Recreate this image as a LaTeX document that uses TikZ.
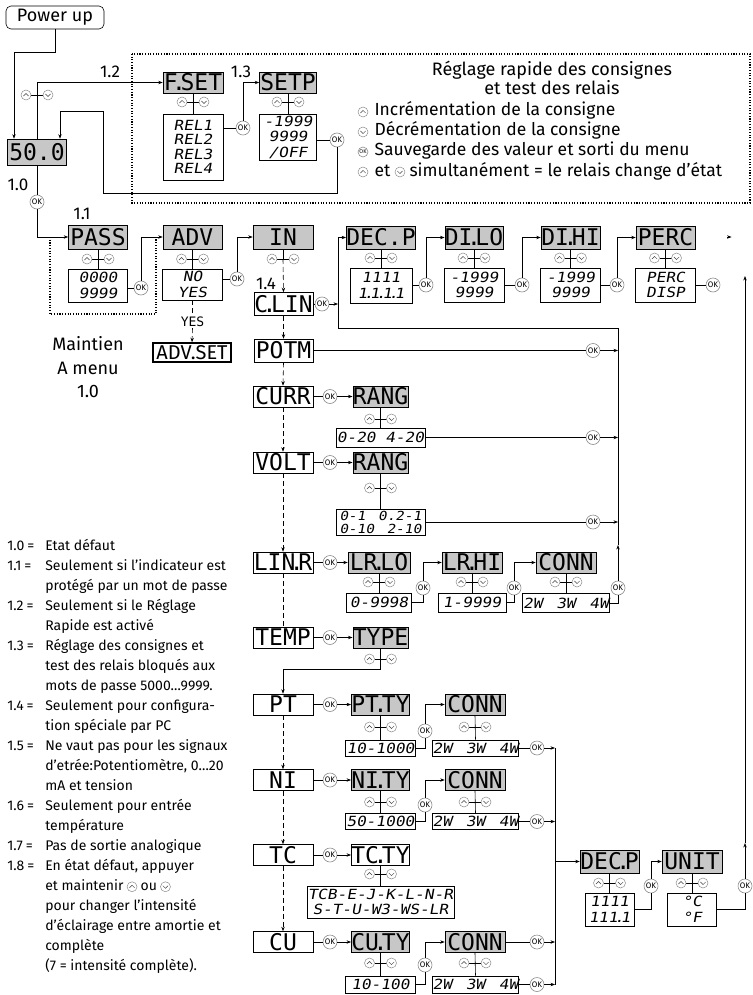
\documentclass[tikz,border=0pt]{standalone}
\usepackage{fontspec}
\setmainfont{Fira Sans}
\newfontfamily\lcd{DejaVu Sans Mono}
\newfontfamily\lcdv[FakeSlant=0.18, FakeStretch=1.15]{DejaVu Sans Mono}
\usetikzlibrary{arrows.meta, positioning}

% narrow decimal points for the displays
\newcommand\ldot{\kern-5.5pt.\kern-5.5pt}
\newcommand\vdot{\kern-3.5pt.\kern-3.5pt}

\tikzset{
  >={Stealth[length=4.5pt, width=3.4pt]},
  hdr/.style={draw, line width=0.6pt, fill=black!22, inner sep=0pt, minimum height=22pt,
    font=\lcd\fontsize{23}{23}\selectfont},
  opt/.style={hdr, fill=white},
  val/.style={draw, line width=0.6pt, inner sep=0pt, align=center,
    font=\lcdv\fontsize{14}{15.5}\selectfont},
  ok/.style={circle, draw=black!45, fill=white, inner sep=0pt, minimum size=14pt,
    font=\fontsize{8}{8}\selectfont},
  btn/.style={circle, draw=black!45, fill=white, inner sep=0pt, minimum size=10pt, line width=0.5pt},
  btnup/.style={btn, path picture={
    \draw[line width=0.5pt, black!75]
      ([xshift=-2.6pt,yshift=-1pt]path picture bounding box.center) --
      ([yshift=1.6pt]path picture bounding box.center) --
      ([xshift=2.6pt,yshift=-1pt]path picture bounding box.center);}},
  btndn/.style={btn, path picture={
    \draw[line width=0.5pt, black!75]
      ([xshift=-2.6pt,yshift=1pt]path picture bounding box.center) --
      ([yshift=-1.6pt]path picture bounding box.center) --
      ([xshift=2.6pt,yshift=1pt]path picture bounding box.center);}},
  updn/.pic={
    \coordinate (-c) at (0,0);
    \draw (-6,0) -- (6,0);
    \node[btnup] (-u) at (-11,0) {};
    \node[btndn] (-d) at (11,0) {};
  },
  dashwire/.style={dash pattern=on 5pt off 3pt},
  dotbox/.style={line width=1.1pt, dash pattern=on 1.1pt off 1.6pt},
  lbl/.style={font=\fontsize{17}{17}\selectfont},
  leg/.style={inner sep=0pt, text height=12pt, text depth=4pt, font=\fontsize{17.5}{17.5}\selectfont},
  note/.style={inner sep=0pt, text height=10pt, text depth=3.5pt, font=\fontsize{14}{14}\selectfont},
}

\begin{document}
\begin{tikzpicture}[x=1pt, y=-1pt, line width=0.6pt]
  \useasboundingbox (0,0) rectangle (752,995);

  % power up and quick setting
  \node[draw, rounded corners=5pt, minimum width=98pt, minimum height=23pt, inner sep=0pt,
    font=\fontsize{18}{18}\selectfont] (power) at (55,17.5) {Power up};
  \node[hdr, minimum width=59pt, minimum height=26pt] (disp) at (37,152) {50.0};
  \node[lbl] (l12) at (110,72) {1.2};
  \node[lbl] (l13) at (241,72) {1.3};
  \node[lbl] (l10) at (18,185) {1.0};
  \node[lbl] (l11) at (82,214) {1.1};
  \node[lbl] (l14) at (266,284) {1.4};

  \node[hdr, minimum width=60pt, minimum height=21pt] (fset) at (193,82.5) {F\ldot SET};
  \node[val, minimum width=60pt, minimum height=66pt, font=\lcdv\fontsize{14}{14.5}\selectfont]
    (fsetv) at (193,147) {REL1\\REL2\\REL3\\REL4};
  \node[ok] (okF) at (243,128) {OK};
  \node[hdr, minimum width=57pt, minimum height=21pt] (setp) at (288,82.5) {SETP};
  \node[val, minimum width=57pt, minimum height=46pt] (setpv) at (288,137) {-1999\\9999\\/OFF};
  \node[ok] (okS) at (337,140) {OK};

  \coordinate (pw) at (14,52);
  \coordinate (r1) at (103,193);
  \coordinate (r2) at (60,111);
  \draw[->] (power.south) |- (pw) -- (pw |- disp.north);
  \draw[->] (disp.north) |- (fset.west);
  \draw (fset.south) -- (fsetv.north);
  \draw (fsetv.east |- okF) -- (okF);
  \draw[->] (okF) |- (setp.west);
  \draw (setp.south) -- (setpv.north);
  \draw (setpv.east |- okS) -- (okS);
  \draw[->] (okS) |- (r1) |- (r2) -- (r2 |- disp.north);
  \pic (dud) at (37,95) {updn};
  \pic (fsud) at (193,102) {updn};
  \pic (spud) at (288,102) {updn};

  \draw[dotbox] (132,54) rectangle (750,203);
  \node[align=center, font=\fontsize{18}{19}\selectfont] (ttl) at (552,77.5)
    {Réglage rapide des consignes\\et test des relais};
  \node[btnup] (lgu) at (363,112) {};
  \node[leg, right=6pt of lgu] (lg1) {Incrémentation de la consigne};
  \node[btndn] (lgd) at (363,132) {};
  \node[leg, right=6pt of lgd] (lg2) {Décrémentation de la consigne};
  \node[ok, minimum size=10pt, font=\fontsize{5.5}{5.5}\selectfont] (lgo) at (363,152) {OK};
  \node[leg, right=6pt of lgo] (lg3) {Sauvegarde des valeur et sorti du menu};
  \node[btnup] (lgu2) at (363,172) {};
  \node[leg, right=6pt of lgu2] (lg4) {et};
  \node[btndn, right=4pt of lg4] (lgd2) {};
  \node[leg, right=4pt of lgd2] (lg5) {simultanément = le relais change d’état};

  % password, advanced, input
  \node[ok] (ok0) at (37,202) {OK};
  \node[hdr, minimum width=59pt, minimum height=24pt] (pass) at (98,237) {PASS};
  \node[val, minimum width=59pt, minimum height=33pt] (passv) at (98,285.5) {0000\\9999};
  \node[ok] (okP) at (141,288) {OK};
  \node[hdr, minimum width=59pt, minimum height=24pt] (adv) at (192.5,237) {ADV};
  \node[val, minimum width=60pt, minimum height=31pt] (advv) at (192.5,284.5) {NO\\YES};
  \node[ok] (okA) at (237,279) {OK};
  \node[inner sep=1pt, font=\lcd\fontsize{13}{13}\selectfont] (yes) at (192.5,322) {YES};
  \node[draw, line width=1.6pt, minimum width=78pt, minimum height=19pt, inner sep=0pt,
    font=\fontsize{20}{20}\selectfont] (advset) at (192,352.5) {ADV.SET};
  \node[align=center, font=\fontsize{18}{23.5}\selectfont] (maint) at (88,367.5) {Maintien\\A menu\\1.0};
  \node[hdr, minimum width=60pt, minimum height=24pt] (in) at (283,237) {IN};

  \draw (disp.south) -- (ok0);
  \draw[->] (ok0) |- (pass.west);
  \draw (pass.south) -- (passv.north);
  \draw (passv.east |- okP) -- (okP);
  \draw[->] (okP) |- (adv.west);
  \draw (adv.south) -- (advv.north);
  \draw (advv.east |- okA) -- (okA);
  \draw[->] (okA) |- (in.west);
  \draw[dashwire] (advv.south) -- (yes.north);
  \draw[dashwire, ->] (yes.south) -- (advset.north);
  \draw[dotbox] (50,237) -- (50,314) -- (156,314) -- (156,237);
  \pic (paud) at (98,259) {updn};
  \pic (adud) at (192.5,259) {updn};
  \pic (inud) at (283,259) {updn};

  % display settings
  \node[hdr, minimum width=68pt, minimum height=23pt] (decp) at (381,237.5) {DEC.P};
  \node[val, minimum width=62pt, minimum height=35pt] (decpv) at (381,285.5) {1111\\1\vdot 1\vdot 1\vdot 1};
  \node[ok] (okD) at (426,285) {OK};
  \node[hdr, minimum width=58pt, minimum height=23pt] (dilo) at (474,237.5) {DI\ldot LO};
  \node[val, minimum width=60pt, minimum height=34pt] (dilov) at (474,285) {-1999\\9999};
  \node[ok] (okDL) at (522,285) {OK};
  \node[hdr, minimum width=59pt, minimum height=23pt] (dihi) at (570.5,237.5) {DI\ldot HI};
  \node[val, minimum width=60pt, minimum height=34pt] (dihiv) at (570.5,285) {-1999\\9999};
  \node[ok] (okDH) at (617,285) {OK};
  \node[hdr, minimum width=59pt, minimum height=23pt] (perc) at (665.5,237.5) {PERC};
  \node[val, minimum width=60pt, minimum height=34pt] (percv) at (665.5,285) {PERC\\DISP};
  \node[ok] (okPC) at (713,285) {OK};

  \draw (decp.south) -- (decpv.north);
  \draw (decpv.east |- okD) -- (okD);
  \draw[->] (okD) |- (dilo.west);
  \draw (dilo.south) -- (dilov.north);
  \draw (dilov.east |- okDL) -- (okDL);
  \draw[->] (okDL) |- (dihi.west);
  \draw (dihi.south) -- (dihiv.north);
  \draw (dihiv.east |- okDH) -- (okDH);
  \draw[->] (okDH) |- (perc.west);
  \draw (perc.south) -- (percv.north);
  \draw (percv.east |- okPC) -- (okPC);
  \pic (dpud) at (381,258) {updn};
  \pic (dlud) at (474,258) {updn};
  \pic (dhud) at (570.5,258) {updn};
  \pic (pcud) at (665.5,258) {updn};
  \coordinate (tipA) at (727,237);
  \coordinate (tipB) at (731.5,237);
  \draw[->] (tipA) -- (tipB);

  % input types
  \node[opt, minimum width=59pt, minimum height=23pt] (clin) at (283.5,304) {C\ldot LIN};
  \node[ok] (okC) at (322,304) {OK};
  \node[opt, minimum width=59pt, minimum height=23pt] (potm) at (283.5,350.5) {POTM};
  \node[ok] (okPo) at (593,350.5) {OK};

  \node[opt, minimum width=60pt, minimum height=21pt] (curr) at (283,396.5) {CURR};
  \node[ok] (okCr) at (330,396.5) {OK};
  \node[hdr, minimum width=55pt, minimum height=21pt] (rang1) at (380.5,396.5) {RANG};
  \node[val, minimum width=89pt, minimum height=19pt] (rang1v) at (380.5,437.5) {0-20 4-20};
  \node[ok] (okR1) at (593,437.5) {OK};

  \node[opt, minimum width=60pt, minimum height=21pt] (volt) at (283,462.5) {VOLT};
  \node[ok] (okVo) at (330,462.5) {OK};
  \node[hdr, minimum width=55pt, minimum height=21pt] (rang2) at (380.5,462.5) {RANG};
  \node[val, minimum width=89pt, minimum height=26pt, font=\lcdv\fontsize{12.5}{13}\selectfont]
    (rang2v) at (380.5,522) {0-1\hspace{4pt} 0.2-1\\0-10\hspace{4pt} 2-10};
  \node[ok] (okR2) at (593,522) {OK};

  \node[opt, minimum width=60pt, minimum height=21pt] (linr) at (283,562.5) {LIN\ldot R};
  \node[ok] (okLi) at (330,562.5) {OK};
  \node[hdr, minimum width=62pt, minimum height=21pt] (lrlo) at (379,562.5) {LR\ldot LO};
  \node[val, minimum width=65pt, minimum height=19pt] (lrlov) at (379,602.5) {0-9998};
  \node[ok] (okL1) at (423,588) {OK};
  \node[hdr, minimum width=60pt, minimum height=21pt] (lrhi) at (472,562.5) {LR\ldot HI};
  \node[val, minimum width=68pt, minimum height=19pt] (lrhiv) at (472,602.5) {1-9999};
  \node[ok] (okL2) at (514,588) {OK};
  \node[hdr, minimum width=60pt, minimum height=21pt] (connL) at (566,562.5) {CONN};
  \node[val, minimum width=87pt, minimum height=19pt] (connLv) at (566,603) {2W\hspace{4pt} 3W\hspace{4pt} 4W};
  \node[ok] (okL3) at (618,588) {OK};

  \coordinate (cA) at (338,328);
  \coordinate (cC) at (618,545);
  \draw (in.south) -- (inud-c);
  \draw[dashwire, ->] (inud-c) -- (clin.north);
  \draw (clin.east) -- (okC);
  \draw[->] (okC) -- (okC -| cA);
  \draw[dashwire, ->] (clin.south) -- (potm.north);
  \draw[dashwire, ->] (potm.south) -- (curr.north);
  \draw[dashwire, ->] (curr.south) -- (volt.north);
  \draw[dashwire, ->] (volt.south) -- (linr.north);
  \draw (potm.east) -- (okPo);
  \draw[->] (okPo) -- (okPo -| cC);
  \draw (curr.east) -- (okCr);
  \draw[->] (okCr) -- (rang1.west);
  \draw (rang1.south) -- (rang1v.north);
  \draw (rang1v.east) -- (okR1);
  \draw[->] (okR1) -- (okR1 -| cC);
  \draw (volt.east) -- (okVo);
  \draw[->] (okVo) -- (rang2.west);
  \draw (rang2.south) -- (rang2v.north);
  \draw (rang2v.east) -- (okR2);
  \draw[->] (okR2) -- (okR2 -| cC);
  \draw (linr.east) -- (okLi);
  \draw[->] (okLi) -- (lrlo.west);
  \draw (lrlo.south) -- (lrlov.north);
  \draw (lrlov.east) -| (okL1);
  \draw[->] (okL1) |- (lrhi.west);
  \draw (lrhi.south) -- (lrhiv.north);
  \draw (lrhiv.east) -| (okL2);
  \draw[->] (okL2) |- (connL.west);
  \draw (connL.south) -- (connLv.north);
  \draw (connLv.east) -| (okL3);
  \draw[->] (okL3) -- (cC);
  \draw (cC) |- (cA);
  \draw[->] (cA) |- (decp.west);
  \pic (r1ud) at (380.5,419) {updn};
  \pic (r2ud) at (380.5,488) {updn};
  \pic (lrlud) at (379,582) {updn};
  \pic (lrhud) at (472,582) {updn};
  \pic (clud) at (566,582) {updn};

  % temperature
  \node[opt, minimum width=60pt, minimum height=21pt] (temp) at (283,637.5) {TEMP};
  \node[ok] (okT) at (330,637.5) {OK};
  \node[hdr, minimum width=55pt, minimum height=21pt] (type) at (380.5,637.5) {TYPE};

  \node[opt, minimum width=60pt, minimum height=21pt] (pt) at (283,704.5) {PT};
  \node[ok] (okPT) at (330,704.5) {OK};
  \node[hdr, minimum width=55pt, minimum height=21pt] (ptty) at (380.5,704.5) {PT\ldot TY};
  \node[val, minimum width=70pt, minimum height=16pt] (pttyv) at (380.5,748) {10-1000};
  \node[ok] (okPT2) at (425,731) {OK};
  \node[hdr, minimum width=60pt, minimum height=21pt] (connP) at (475,704.5) {CONN};
  \node[val, minimum width=85pt, minimum height=16pt] (connPv) at (475.5,748) {2W\hspace{4pt} 3W\hspace{4pt} 4W};
  \node[ok] (okPT3) at (537,748) {OK};

  \node[opt, minimum width=60pt, minimum height=21pt] (ni) at (283,780) {NI};
  \node[ok] (okNi) at (330,780) {OK};
  \node[hdr, minimum width=55pt, minimum height=21pt] (nity) at (380.5,780) {NI\ldot TY};
  \node[val, minimum width=70pt, minimum height=16pt] (nityv) at (380.5,821.5) {50-1000};
  \node[ok] (okNi2) at (425,805) {OK};
  \node[hdr, minimum width=60pt, minimum height=21pt] (connN) at (475,780) {CONN};
  \node[val, minimum width=85pt, minimum height=16pt] (connNv) at (475.5,821.5) {2W\hspace{4pt} 3W\hspace{4pt} 4W};
  \node[ok] (okNi3) at (537,821.5) {OK};

  \node[opt, minimum width=60pt, minimum height=21pt] (tc) at (283,855) {TC};
  \node[ok] (okTc) at (330,855) {OK};
  \node[opt, minimum width=55pt, minimum height=21pt] (tcty) at (380.5,855) {TC\ldot TY};
  \node[val, minimum width=147pt, minimum height=32pt] (tctyv) at (380.5,902) {TCB-E-J-K-L-N-R\\S-T-U-W3-WS-LR};

  \node[opt, minimum width=60pt, minimum height=21pt] (cu) at (283,942) {CU};
  \node[ok] (okCu) at (330,942) {OK};
  \node[hdr, minimum width=55pt, minimum height=21pt] (cuty) at (380.5,942) {CU\ldot TY};
  \node[val, minimum width=70pt, minimum height=17pt] (cutyv) at (380.5,984.5) {10-100};
  \node[ok] (okCu2) at (425,965) {OK};
  \node[hdr, minimum width=60pt, minimum height=21pt] (connC) at (475,942) {CONN};
  \node[val, minimum width=85pt, minimum height=17pt] (connCv) at (475.5,984.5) {2W\hspace{4pt} 3W\hspace{4pt} 4W};
  \node[ok] (okCu3) at (537,942) {OK};
  \node[ok] (okCu4) at (537,984.5) {OK};

  \coordinate (tj) at (283,669);
  \coordinate (k1) at (555,748);
  \coordinate (k2) at (555,984.5);
  \draw[dashwire] (linr.south) -- (temp.north);
  \draw (temp.east) -- (okT);
  \draw[->] (okT) -- (type.west);
  \draw[->] (type.south) |- (tj) -- (pt.north);
  \draw[dashwire, ->] (pt.south) -- (ni.north);
  \draw[dashwire, ->] (ni.south) -- (tc.north);
  \draw[dashwire, ->] (tc.south) -- (cu.north);
  \draw (pt.east) -- (okPT);
  \draw[->] (okPT) -- (ptty.west);
  \draw (ptty.south) -- (pttyv.north);
  \draw (pttyv.east) -| (okPT2);
  \draw[->] (okPT2) |- (connP.west);
  \draw (connP.south) -- (connPv.north);
  \draw (connPv.east) -- (okPT3);
  \draw[->] (okPT3) -- (k1);
  \draw (ni.east) -- (okNi);
  \draw[->] (okNi) -- (nity.west);
  \draw (nity.south) -- (nityv.north);
  \draw (nityv.east) -| (okNi2);
  \draw[->] (okNi2) |- (connN.west);
  \draw (connN.south) -- (connNv.north);
  \draw (connNv.east) -- (okNi3);
  \draw[->] (okNi3) -- (okNi3 -| k1);
  \draw (tc.east) -- (okTc);
  \draw[->] (okTc) -- (tcty.west);
  \draw (tcty.south) -- (tctyv.north);
  \draw (cu.east) -- (okCu);
  \draw[->] (okCu) -- (cuty.west);
  \draw (cuty.south) -- (cutyv.north);
  \draw (cutyv.east) -| (okCu2);
  \draw[->] (okCu2) |- (connC.west);
  \draw (connC.south) -- (connCv.north);
  \draw (connC.east) -- (okCu3);
  \draw[->] (okCu3) -- (okCu3 -| k1);
  \draw (connCv.east) -- (okCu4);
  \draw[->] (okCu4) -- (k2);
  \draw (k1) -- (k2);
  \pic (tyud) at (380.5,659) {updn};
  \pic (ptud) at (380.5,727) {updn};
  \pic (cpud) at (475,727) {updn};
  \pic (niud) at (380.5,802) {updn};
  \pic (cnud) at (475,802) {updn};
  \pic (tcud) at (380.5,874) {updn};
  \pic (cuud) at (380.5,963) {updn};
  \pic (ccud) at (475,963) {updn};

  % decimal point and unit
  \node[hdr, minimum width=59pt, minimum height=23pt] (decp2) at (609.5,861.5) {DEC\ldot P};
  \node[val, minimum width=49pt, minimum height=33pt] (decp2v) at (609.5,909.5) {1111\\111\vdot 1};
  \node[ok] (okDp) at (651,886) {OK};
  \node[hdr, minimum width=60pt, minimum height=23pt] (unit) at (692,861.5) {UNIT};
  \node[val, minimum width=49pt, minimum height=33pt] (unitv) at (692,909.5) {°C\\°F};
  \node[ok] (okU) at (745,886) {OK};

  \coordinate (rmid) at (745,843);
  \coordinate (rtop) at (745,276);
  \draw[->] (k1 |- decp2) -- (decp2.west);
  \draw (decp2.south) -- (decp2v.north);
  \draw (decp2v.east) -| (okDp);
  \draw[->] (okDp) |- (unit.west);
  \draw (unit.south) -- (unitv.north);
  \draw (unitv.east) -| (okU);
  \draw[->] (okU) -- (rmid);
  \draw[->] (rmid) -- (rtop);
  \pic (dp2ud) at (609.5,883) {updn};
  \pic (unud) at (692,883) {updn};

  % notes
  \foreach \y/\k [count=\i] in {550/1.0, 570/1.1, 610/1.2, 650/1.3, 710/1.4, 750/1.5, 810/1.6, 850/1.7, 870/1.8}
    \node[note, anchor=base west] (num\i) at (7,\y) {\k\hspace{3pt}=};
  \foreach \y/\t [count=\i] in {550/Etat défaut, 570/Seulement si l’indicateur est,
      590/protégé par un mot de passe, 610/Seulement si le Réglage, 630/Rapide est activé,
      650/Réglage des consignes et, 670/test des relais bloqués aux, 690/mots de passe 5000…9999.,
      710/Seulement pour configura-, 730/tion spéciale par PC, 750/Ne vaut pas pour les signaux,
      770/{d’etrée:Potentiomètre, 0…20}, 790/mA et tension, 810/Seulement pour entrée,
      830/température, 850/Pas de sortie analogique, 870/{En état défaut, appuyer},
      910/pour changer l’intensité, 930/d’éclairage entre amortie et, 950/complète,
      970/(7 = intensité complète).}
    \node[note, anchor=base west] (txt\i) at (45,\y) {\t};
  \node[note, anchor=base west] (m1) at (45,890) {et maintenir};
  \node[btnup, right=3pt of m1] (m2) {};
  \node[note, right=3pt of m2] (m3) {ou};
  \node[btndn, right=3pt of m3] (m4) {};
\end{tikzpicture}
\end{document}
